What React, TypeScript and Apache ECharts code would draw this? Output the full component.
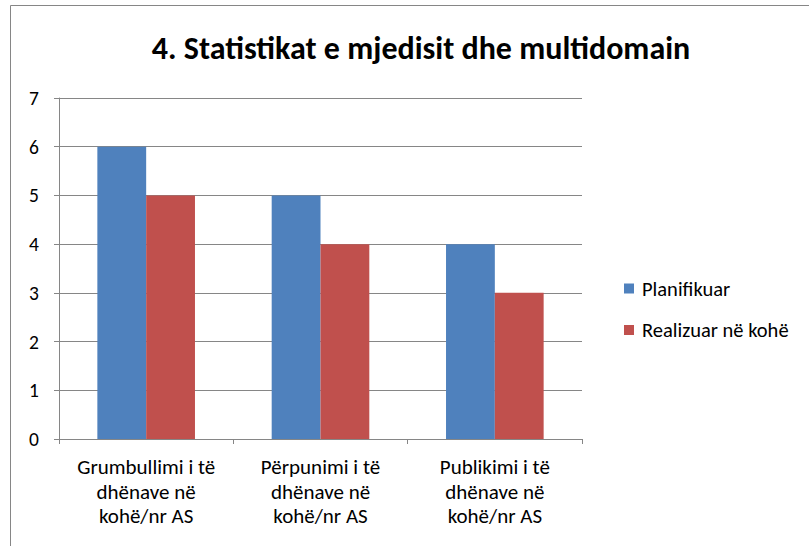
import React, { useEffect, useRef } from "react";
import * as echarts from "echarts";

const categories = [
  "Grumbullimi i të\ndhënave në\nkohë/nr AS",
  "Përpunimi i të\ndhënave në\nkohë/nr AS",
  "Publikimi i të\ndhënave në\nkohë/nr AS",
];
const planifikuar = [6, 5, 4];
const realizuar = [5, 4, 3];
const seriesNames = ["Planifikuar", "Realizuar në kohë"];
const titleText = "4. Statistikat e mjedisit dhe multidomain";

const FONT = "Carlito, Calibri, 'Noto Sans', sans-serif";

export default function App() {
  const ref = useRef<HTMLDivElement>(null);
  useEffect(() => {
    document.body.style.margin = "0";
    const chart = echarts.init(ref.current!, null, { renderer: "svg" });
    chart.setOption({
      animation: false,
      backgroundColor: "#ffffff",
      title: {
        text: titleText,
        left: 416,
        textAlign: "center",
        top: 27,
        textStyle: { fontFamily: FONT, fontSize: 32, fontWeight: "bold", color: "#000" },
      },
      legend: {
        orient: "vertical",
        left: 619,
        top: 273,
        itemWidth: 10,
        itemHeight: 10,
        itemGap: 20.5,
        icon: "rect",
        textStyle: { fontFamily: FONT, fontSize: 20.5, color: "#000", padding: [0, 0, 0, 3] },
        data: seriesNames,
      },
      grid: { left: 59, top: 98, right: 227, bottom: 107, containLabel: false },
      xAxis: {
        type: "category",
        data: categories,
        axisLine: { lineStyle: { color: "#868686" } },
        axisTick: { show: true, length: 5, lineStyle: { color: "#868686" } },
        axisLabel: {
          fontFamily: FONT,
          fontSize: 21,
          color: "#000",
          lineHeight: 24.5,
          margin: 16,
          interval: 0,
        },
      },
      yAxis: {
        type: "value",
        min: 0,
        max: 7,
        interval: 1,
        axisLine: { show: true, lineStyle: { color: "#868686" } },
        axisTick: { show: true, length: 5, lineStyle: { color: "#868686" } },
        splitLine: { lineStyle: { color: "#868686" } },
        axisLabel: { fontFamily: FONT, fontSize: 19.5, color: "#000", margin: 20 },
      },
      series: [
        {
          name: seriesNames[0],
          type: "bar",
          data: planifikuar,
          itemStyle: { color: "#4F81BD" },
          barGap: "0%",
          barCategoryGap: "44%",
        },
        {
          name: seriesNames[1],
          type: "bar",
          data: realizuar,
          itemStyle: { color: "#C0504D" },
        },
      ],
      graphic: [
        {
          type: "rect",
          shape: { x: 10.5, y: 5.5, width: 830, height: 600 },
          style: { fill: "none", stroke: "#868686", lineWidth: 1 },
          silent: true,
          z: -1,
        },
      ],
    });
    return () => chart.dispose();
  }, []);
  return <div ref={ref} style={{ position: "fixed", left: 0, top: 0, width: 809, height: 546 }} />;
}
